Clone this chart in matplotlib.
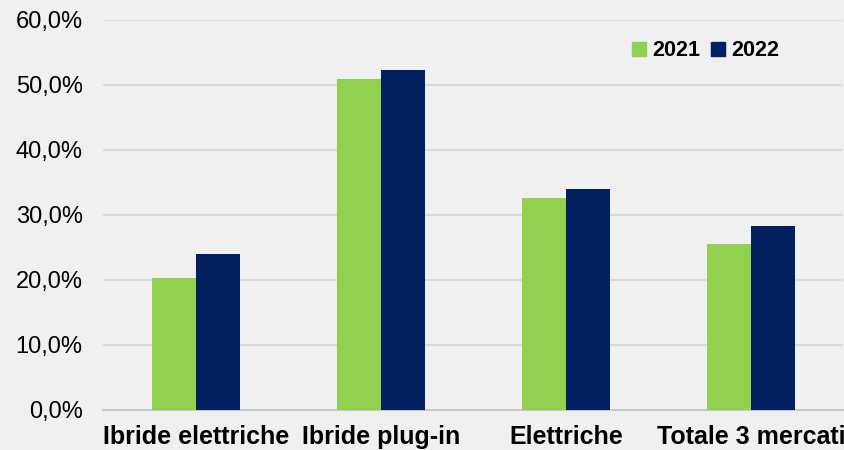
import numpy as np
import matplotlib.pyplot as plt
from matplotlib.patches import Patch
from matplotlib.ticker import FuncFormatter

categorie = ["Ibride elettriche", "Ibride plug-in", "Elettriche", "Totale 3 mercati"]
anni = ["2021", "2022"]
quota_2021 = [20.3, 50.9, 32.6, 25.5]
quota_2022 = [24.0, 52.3, 34.0, 28.3]

verde = "#92D050"
blu = "#002060"

plt.rcParams['font.family'] = ['Liberation Sans', 'DejaVu Sans']

fig = plt.figure(figsize=(8.44, 4.5), dpi=100, facecolor="#f0f0f0")
ax = fig.add_axes([0.1226, 0.0889, 0.8768, 0.8667])
ax.set_facecolor("none")

x = np.arange(len(categorie))
w = 0.238
ax.bar(x - w/2, quota_2021, w, color=verde, zorder=3)
ax.bar(x + w/2, quota_2022, w, color=blu, zorder=3)

ax.set_xlim(-0.5, 3.5)
ax.set_ylim(0, 60)
ax.set_yticks(np.arange(0, 61, 10))
ax.yaxis.set_major_formatter(FuncFormatter(lambda v, p: f"{v:.1f}%".replace(".", ",")))
ax.set_xticks(x)
ax.set_xticklabels(categorie, fontsize=18, fontweight="bold")
ax.tick_params(axis="y", length=0, pad=15, labelsize=17)
ax.tick_params(axis="x", length=0, pad=11)

ax.grid(axis="y", color="#d9d9d9", linewidth=1.5, zorder=0)
for s in ["top", "right", "left"]:
    ax.spines[s].set_visible(False)
ax.spines["bottom"].set_color("#c8c8c8")
ax.spines["bottom"].set_linewidth(1.5)

handles = [Patch(color=verde, label=anni[0]), Patch(color=blu, label=anni[1])]
fig.legend(handles=handles, loc="center", bbox_to_anchor=(0.836, 0.887), ncol=2,
           frameon=False, prop={"size": 15.5, "weight": "bold"},
           handlelength=0.65, handleheight=0.65, handletextpad=0.3,
           columnspacing=0.5)

fig.savefig("out.png", dpi=100, facecolor=fig.get_facecolor())
